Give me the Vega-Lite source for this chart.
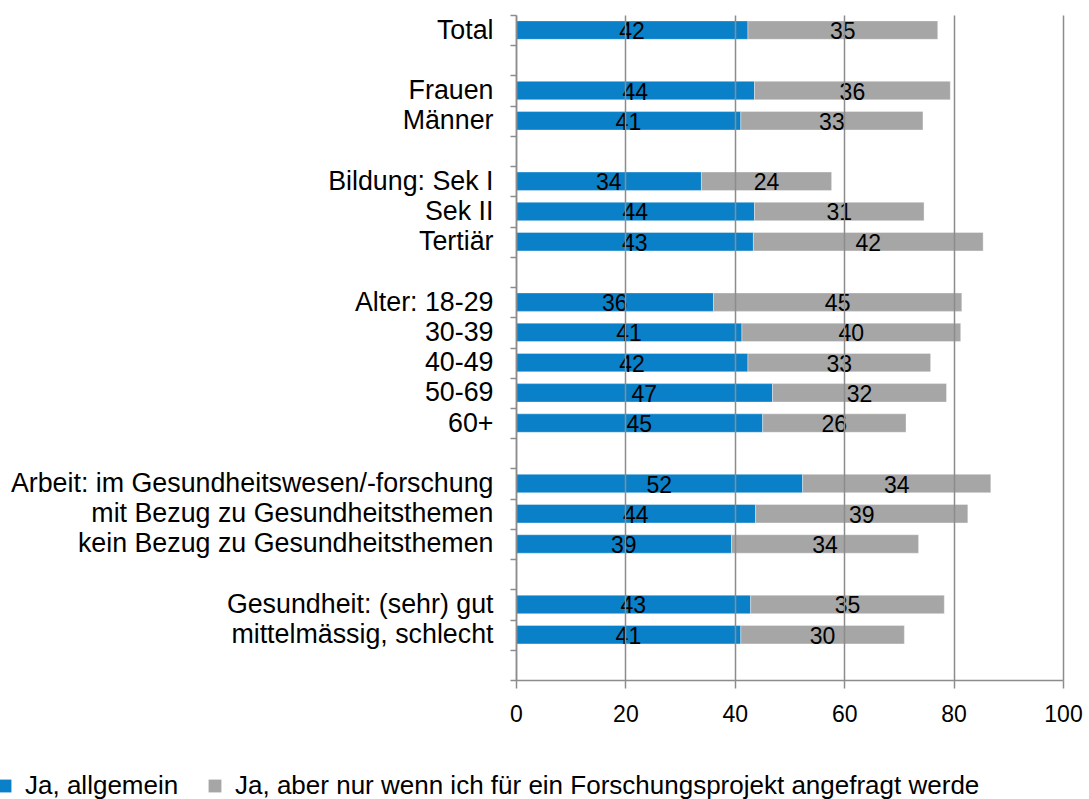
{
  "$schema": "https://vega.github.io/schema/vega-lite/v6.json",
  "width": 547,
  "height": 665,
  "autosize": {"type": "none"},
  "padding": {"left": 516, "top": 15, "right": 26, "bottom": 119},
  "config": {
    "font": "Liberation Sans",
    "view": {"stroke": null},
    "legend": {"labelFont": "Liberation Sans"},
    "axis": {"labelFont": "Liberation Sans"}
  },
  "data": {
    "values": [
      {"row": "Total", "series": "Ja, allgemein", "s": 1, "value": 42.4},
      {"row": "Total", "series": "Ja, aber nur wenn ich für ein Forschungsprojekt angefragt werde", "s": 2, "value": 34.7},
      {"row": "Frauen", "series": "Ja, allgemein", "s": 1, "value": 43.6},
      {"row": "Frauen", "series": "Ja, aber nur wenn ich für ein Forschungsprojekt angefragt werde", "s": 2, "value": 35.8},
      {"row": "Männer", "series": "Ja, allgemein", "s": 1, "value": 41.1},
      {"row": "Männer", "series": "Ja, aber nur wenn ich für ein Forschungsprojekt angefragt werde", "s": 2, "value": 33.3},
      {"row": "Bildung: Sek I", "series": "Ja, allgemein", "s": 1, "value": 33.9},
      {"row": "Bildung: Sek I", "series": "Ja, aber nur wenn ich für ein Forschungsprojekt angefragt werde", "s": 2, "value": 23.8},
      {"row": "Sek II", "series": "Ja, allgemein", "s": 1, "value": 43.6},
      {"row": "Sek II", "series": "Ja, aber nur wenn ich für ein Forschungsprojekt angefragt werde", "s": 2, "value": 31.0},
      {"row": "Tertiär", "series": "Ja, allgemein", "s": 1, "value": 43.4},
      {"row": "Tertiär", "series": "Ja, aber nur wenn ich für ein Forschungsprojekt angefragt werde", "s": 2, "value": 42.0},
      {"row": "Alter: 18-29", "series": "Ja, allgemein", "s": 1, "value": 36.1},
      {"row": "Alter: 18-29", "series": "Ja, aber nur wenn ich für ein Forschungsprojekt angefragt werde", "s": 2, "value": 45.4},
      {"row": "30-39", "series": "Ja, allgemein", "s": 1, "value": 41.3},
      {"row": "30-39", "series": "Ja, aber nur wenn ich für ein Forschungsprojekt angefragt werde", "s": 2, "value": 40.0},
      {"row": "40-49", "series": "Ja, allgemein", "s": 1, "value": 42.4},
      {"row": "40-49", "series": "Ja, aber nur wenn ich für ein Forschungsprojekt angefragt werde", "s": 2, "value": 33.4},
      {"row": "50-69", "series": "Ja, allgemein", "s": 1, "value": 46.9},
      {"row": "50-69", "series": "Ja, aber nur wenn ich für ein Forschungsprojekt angefragt werde", "s": 2, "value": 31.8},
      {"row": "60+", "series": "Ja, allgemein", "s": 1, "value": 45.1},
      {"row": "60+", "series": "Ja, aber nur wenn ich für ein Forschungsprojekt angefragt werde", "s": 2, "value": 26.2},
      {"row": "Arbeit: im Gesundheitswesen/-forschung", "series": "Ja, allgemein", "s": 1, "value": 52.4},
      {"row": "Arbeit: im Gesundheitswesen/-forschung", "series": "Ja, aber nur wenn ich für ein Forschungsprojekt angefragt werde", "s": 2, "value": 34.4},
      {"row": "mit Bezug zu Gesundheitsthemen", "series": "Ja, allgemein", "s": 1, "value": 43.8},
      {"row": "mit Bezug zu Gesundheitsthemen", "series": "Ja, aber nur wenn ich für ein Forschungsprojekt angefragt werde", "s": 2, "value": 38.8},
      {"row": "kein Bezug zu Gesundheitsthemen", "series": "Ja, allgemein", "s": 1, "value": 39.4},
      {"row": "kein Bezug zu Gesundheitsthemen", "series": "Ja, aber nur wenn ich für ein Forschungsprojekt angefragt werde", "s": 2, "value": 34.2},
      {"row": "Gesundheit: (sehr) gut", "series": "Ja, allgemein", "s": 1, "value": 42.9},
      {"row": "Gesundheit: (sehr) gut", "series": "Ja, aber nur wenn ich für ein Forschungsprojekt angefragt werde", "s": 2, "value": 35.4},
      {"row": "mittelmässig, schlecht", "series": "Ja, allgemein", "s": 1, "value": 41.1},
      {"row": "mittelmässig, schlecht", "series": "Ja, aber nur wenn ich für ein Forschungsprojekt angefragt werde", "s": 2, "value": 29.9}
    ]
  },
  "transform": [
    {"stack": "value", "groupby": ["row"], "sort": [{"field": "s", "order": "ascending"}], "as": ["v0", "v1"]}
  ],
  "encoding": {
    "y": {
      "field": "row",
      "type": "nominal",
      "scale": {
        "domain": ["Total", " ", "Frauen", "Männer", "  ", "Bildung: Sek I", "Sek II", "Tertiär", "   ", "Alter: 18-29", "30-39", "40-49", "50-69", "60+", "    ", "Arbeit: im Gesundheitswesen/-forschung", "mit Bezug zu Gesundheitsthemen", "kein Bezug zu Gesundheitsthemen", "     ", "Gesundheit: (sehr) gut", "mittelmässig, schlecht", "      "],
        "paddingInner": 0,
        "paddingOuter": 0
      },
      "axis": {
        "title": null,
        "domainColor": "#8c8c8c",
        "domainWidth": 1.5,
        "tickColor": "#8c8c8c",
        "tickWidth": 1.5,
        "tickSize": 6,
        "tickBand": "extent",
        "labelFontSize": 26.8,
        "labelColor": "black",
        "labelPadding": 17,
        "labelLimit": 700,
        "zindex": 1
      }
    }
  },
  "layer": [
    {
      "mark": {"type": "bar", "height": {"band": 0.61}, "stroke": "white", "strokeWidth": 1, "strokeOpacity": 0.35},
      "encoding": {
        "x": {
          "field": "v0",
          "type": "quantitative",
          "scale": {"domain": [0, 100], "nice": false},
          "axis": {
            "title": null,
            "values": [0, 20, 40, 60, 80, 100],
            "grid": true,
            "gridColor": "#8c8c8c",
            "gridWidth": 1.5,
            "domainColor": "#8c8c8c",
            "domainWidth": 1.5,
            "tickColor": "#8c8c8c",
            "tickWidth": 1.5,
            "tickSize": 8,
            "labelFontSize": 23,
            "labelColor": "black",
            "labelPadding": 15,
            "labelFlush": false,
            "labelOverlap": false,
            "zindex": 1
          }
        },
        "x2": {"field": "v1"},
        "color": {
          "field": "series",
          "type": "nominal",
          "scale": {
            "domain": ["Ja, allgemein", "Ja, aber nur wenn ich für ein Forschungsprojekt angefragt werde"],
            "range": ["#0a80c8", "#a6a6a6"]
          },
          "legend": {
            "orient": "none",
            "legendX": -524,
            "legendY": 758,
            "direction": "horizontal",
            "title": null,
            "symbolType": "square",
            "symbolSize": 165,
            "symbolStrokeWidth": 0,
            "labelFontSize": 26,
            "labelColor": "black",
            "labelLimit": 1000,
            "labelOffset": 7,
            "columnPadding": 23,
            "padding": 0
          }
        }
      }
    },
    {
      "transform": [
        {"fold": ["v0", "v1"], "as": ["edge", "pos"]},
        {"aggregate": [{"op": "mean", "field": "pos", "as": "mid"}], "groupby": ["row", "series", "value"]}
      ],
      "mark": {"type": "text", "fontSize": 23, "color": "black", "baseline": "middle", "align": "center", "dy": 2},
      "encoding": {
        "x": {"field": "mid", "type": "quantitative"},
        "text": {"field": "value", "type": "quantitative", "format": ".0f"}
      }
    }
  ]
}
